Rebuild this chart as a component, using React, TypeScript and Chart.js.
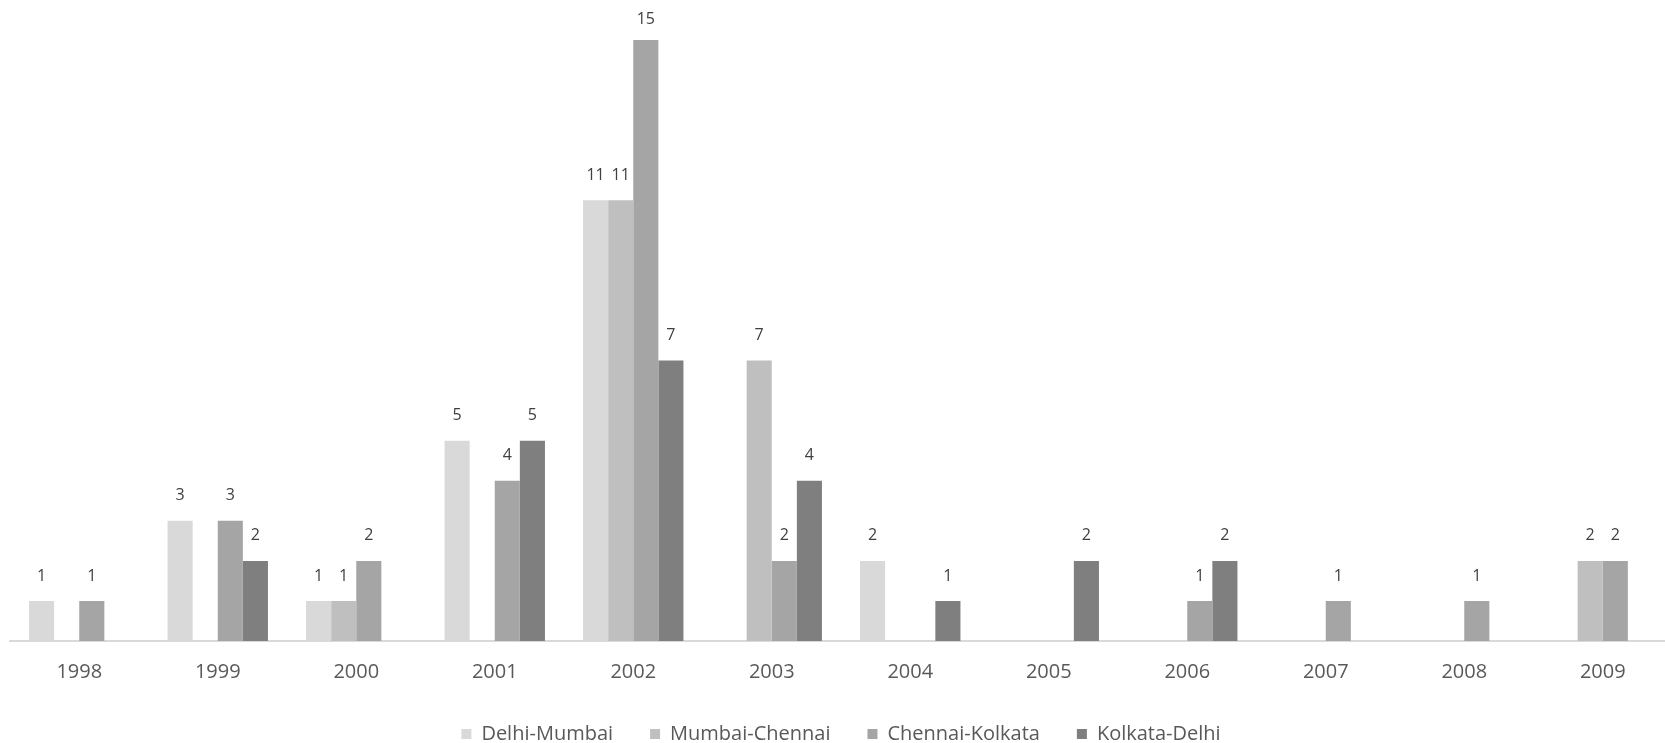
import React, { useEffect, useRef } from "react";
import { Chart, registerables } from "chart.js";

Chart.register(...registerables);

const years = ["1998", "1999", "2000", "2001", "2002", "2003", "2004", "2005", "2006", "2007", "2008", "2009"];
const delhiMumbai = [1, 3, 1, 5, 11, null, 2, null, null, null, null, null];
const mumbaiChennai = [null, null, 1, null, 11, 7, null, null, null, null, null, 2];
const chennaiKolkata = [1, 3, 2, 4, 15, 2, null, null, 1, 1, 1, 2];
const kolkataDelhi = [null, 2, null, 5, 7, 4, 1, 2, 2, null, null, null];

const seriesNames = ["Delhi-Mumbai", "Mumbai-Chennai", "Chennai-Kolkata", "Kolkata-Delhi"];
const seriesColors = ["#d9d9d9", "#bfbfbf", "#a5a5a5", "#7f7f7f"];

const FONT = "'Open Sans', 'Noto Sans', sans-serif";

const valueLabels = {
  id: "valueLabels",
  afterDatasetsDraw(chart: any) {
    const ctx = chart.ctx;
    ctx.save();
    ctx.font = `16px ${FONT}`;
    ctx.fillStyle = "#404040";
    ctx.textAlign = "center";
    ctx.textBaseline = "middle";
    chart.data.datasets.forEach((ds: any, i: number) => {
      const meta = chart.getDatasetMeta(i);
      meta.data.forEach((bar: any, j: number) => {
        const v = ds.data[j];
        if (v === null || v === undefined) return;
        const y = Math.max(bar.y - 25, chart.chartArea.top + 19);
        ctx.fillText(String(v), bar.x, y);
      });
    });
    ctx.restore();
  },
};

const legendShift = {
  id: "legendShift",
  beforeInit(chart: any) {
    const legend = chart.legend;
    if (!legend) return;
    const origFit = legend.fit;
    legend.fit = function () {
      origFit.call(this);
      this.height -= 11;
    };
  },
};

export default function App() {
  const ref = useRef<HTMLCanvasElement>(null);
  useEffect(() => {
    if (!ref.current) return;
    const datasets = [delhiMumbai, mumbaiChennai, chennaiKolkata, kolkataDelhi].map((d, i) => ({
      label: seriesNames[i],
      data: d,
      backgroundColor: seriesColors[i],
      borderWidth: 0,
      categoryPercentage: 0.725,
      barPercentage: 1.0,
    }));
    const chart = new Chart(ref.current, {
      type: "bar",
      data: { labels: years, datasets },
      plugins: [valueLabels, legendShift],
      options: {
        responsive: false,
        animation: false,
        layout: { padding: { left: 10, right: 10, top: 0, bottom: 0 } },
        scales: {
          x: {
            grid: { display: false, drawTicks: false },
            border: { display: true, color: "#d9d9d9", width: 2 },
            ticks: { color: "#595959", font: { family: FONT, size: 20 }, padding: 19 },
            afterFit: (scale: any) => {
              scale.height = 46;
            },
          },
          y: {
            display: false,
            min: 0,
            max: 16,
          },
        },
        plugins: {
          legend: {
            position: "bottom",
            labels: {
              boxWidth: 10,
              boxHeight: 10,
              padding: 37,
              color: "#595959",
              font: { family: FONT, size: 20 },
            },
          },
          tooltip: { enabled: false },
        },
      },
    });
    return () => chart.destroy();
  }, []);
  return (
    <div style={{ position: "fixed", left: 0, top: 0, width: 1665, height: 743, overflow: "hidden", background: "#fff" }}>
      <canvas ref={ref} width={1682} height={743} style={{ display: "block" }} />
    </div>
  );
}
